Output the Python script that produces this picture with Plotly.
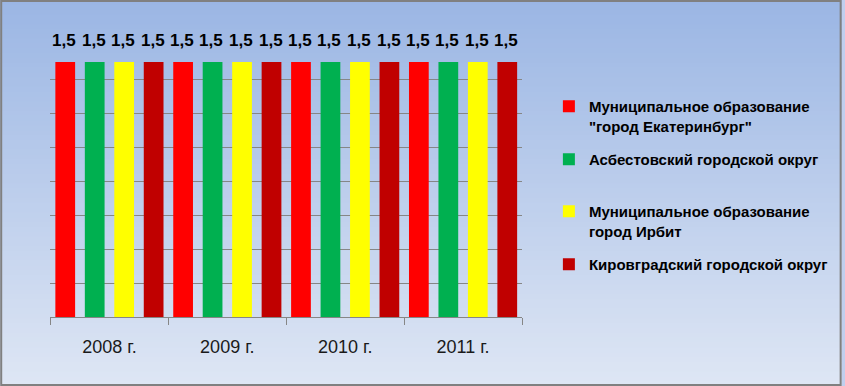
import plotly.graph_objects as go

years = ["2008 г.", "2009 г.", "2010 г.", "2011 г."]
series_names = [
    "Муниципальное образование<br>\"город Екатеринбург\"",
    "Асбестовский городской округ",
    "Муниципальное образование<br>город Ирбит",
    "Кировградский городской округ",
]
series_values = [
    [1.5, 1.5, 1.5, 1.5],
    [1.5, 1.5, 1.5, 1.5],
    [1.5, 1.5, 1.5, 1.5],
    [1.5, 1.5, 1.5, 1.5],
]
series_colors = ["#ff0000", "#00b050", "#ffff00", "#c00000"]

W, H = 845, 386
L, T, PW, PH = 50, 45, 474, 272


def px_x(p):
    return (p - L) / PW


def px_y(p):
    return (T + PH - p) / PH


FONT = "Liberation Sans"
fig = go.Figure()
legend_ids = ["legend", "legend2", "legend3", "legend4"]
n_series = len(series_values)
slot = PW / len(years) / n_series
annotations = []
for si, (name, vals, col, lg) in enumerate(zip(series_names, series_values, series_colors, legend_ids)):
    fig.add_trace(go.Bar(
        x=years, y=vals, name=name, marker=dict(color=col, line=dict(width=0)),
        legend=lg,
    ))
    for xv, v in zip(years, vals):
        annotations.append(dict(
            x=xv, y=v, xref="x", yref="y", text=f"{v:.1f}".replace(".", ","),
            showarrow=False, xshift=(si - (n_series - 1) / 2) * slot - 1, yshift=22,
            yanchor="middle", xanchor="center",
            font=dict(family=FONT, size=17, color="#000000", weight="bold"),
        ))

# gradient background bands
shapes = []
N = 80
c0 = (155, 182, 228)
c1 = (222, 230, 244)
for i in range(N):
    t = i / (N - 1)
    c = tuple(round(a + (b - a) * t) for a, b in zip(c0, c1))
    y0 = i * H / N
    y1 = (i + 1) * H / N + 1
    shapes.append(dict(type="rect", xref="paper", yref="paper", layer="below",
                       x0=px_x(0), x1=px_x(W), y0=px_y(y1), y1=px_y(y0),
                       fillcolor="rgb(%d,%d,%d)" % c, line=dict(width=0)))
shapes.append(dict(type="rect", xref="paper", yref="paper", layer="above",
                   x0=px_x(1), x1=px_x(W - 1), y0=px_y(H - 1), y1=px_y(1),
                   line=dict(color="#808080", width=2), fillcolor="rgba(0,0,0,0)"))

leg_common = dict(font=dict(family=FONT, size=15, color="#000000", weight="bold"),
                  bgcolor="rgba(0,0,0,0)", xanchor="left", yanchor="top",
                  itemclick=False, itemdoubleclick=False, valign="top")
leg_tops = [90, 143, 195, 248]
layouts = {}
for lg, top in zip(legend_ids, leg_tops):
    layouts[lg] = dict(leg_common, x=px_x(551), y=px_y(top))

fig.update_layout(
    width=W, height=H,
    margin=dict(l=L, r=W - L - PW, t=T, b=H - T - PH),
    paper_bgcolor="#c0cfee",
    plot_bgcolor="rgba(255,255,255,0.12)",
    barmode="group", bargap=0.0, bargroupgap=0.33,
    showlegend=True,
    shapes=shapes,
    annotations=annotations,
    xaxis=dict(type="category", showgrid=False, showline=True, linecolor="#868686",
               linewidth=1, ticks="outside", ticklen=7, tickcolor="#868686",
               tickson="boundaries", ticklabelstandoff=13,
               tickfont=dict(family=FONT, size=18, color="#1a1a1a")),
    yaxis=dict(range=[0, 1.6], dtick=0.2, showgrid=True, gridcolor="#868686",
               gridwidth=1, showticklabels=False, showline=False, zeroline=False,
               ticks=""),
    **layouts,
)

fig.write_html("out.html")
